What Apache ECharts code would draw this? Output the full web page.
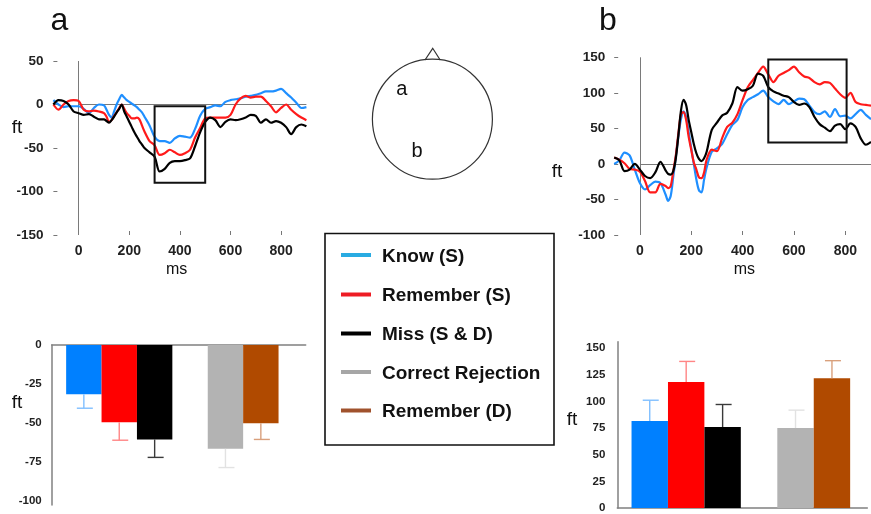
<!DOCTYPE html>
<html>
<head>
<meta charset="utf-8">
<script src="https://cdn.jsdelivr.net/npm/echarts@6/dist/echarts.min.js"></script>
<style>
html,body{margin:0;padding:0;background:#ffffff;}
#c{width:871px;height:514px;}
</style>
</head>
<body>
<div id="c"></div>
<script>
// ---------------- DATA ----------------
// time points (ms)
const times = [
  -100,-80,-60,-40,-20,0,20,40,60,80,100,
  110,120,130,140,150,160,170,180,190,200,210,220,230,240,250,260,
  280,300,320,340,360,380,400,420,440,460,480,500,520,540,560,580,600,620,640,660,680,700,720,740,760,780,800,820,840,860,880,900
];
// panel a (fT)
const knowA = [
  5,0,-3,-2,-2,-2,-5,-10,-4,0,-1,
  -6,-12,-15,-8,0,6,11,8,5,3,1,-1,-3,-6,-9,-14,
  -24,-37,-42,-42,-44,-39,-36,-37,-38,-28,-13,-5,-3,-1,-2,3,5,6,7,9,10,11,13,15,15,16,18,13,8,2,-4,-3
];
const rememberA = [
  0,-6,0,4,5,4,-6,-8,-7,-8,-10,
  -14,-20,-18,-13,-9,-4,0,-5,-10,-13,-16,-16,-15,-17,-24,-31,
  -42,-47,-58,-56,-52,-55,-58,-56,-52,-38,-27,-16,-15,-15,-15,-15,-12,0,7,10,8,9,9,4,-2,-9,-4,0,-6,-11,-15,-18
];
const missA = [
  0,5,4,0,-8,-10,-12,-11,-14,-17,-17,
  -19,-21,-18,-14,-9,-5,0,-8,-14,-20,-26,-32,-37,-42,-46,-50,
  -55,-60,-77,-74,-67,-65,-65,-64,-62,-48,-32,-20,-15,-18,-26,-20,-17,-18,-17,-15,-12,-13,-21,-17,-21,-19,-21,-26,-34,-26,-23,-25
];
// panel b (fT)
const knowB = [
  0,5,16,12,-8,-27,-36,-30,-25,-27,-43,
  -52,-45,-18,10,39,63,74,66,45,22,0,-22,-37,-40,-22,-5,
  17,22,28,42,55,62,80,90,94,98,103,94,88,84,90,84,88,92,91,82,73,70,74,66,77,67,68,64,70,76,69,63
];
const rememberB = [
  9,6,1,-7,-8,-11,-24,-40,-40,-28,-31,
  -34,-31,-10,12,43,70,73,62,38,20,2,-8,-19,-20,-12,6,
  20,18,36,52,58,70,90,108,118,128,137,126,115,124,128,132,137,129,123,121,115,112,115,114,106,98,93,100,87,84,83,82
];
const missB = [
  9,5,-10,-8,0,-8,-17,-20,-12,3,-9,
  -14,-15,-10,8,40,75,90,83,62,45,28,15,7,4,8,17,
  48,58,68,72,85,108,103,105,110,127,124,108,102,99,96,94,87,83,85,80,66,56,51,46,54,56,49,57,52,36,27,31
];
// analysis windows (ms, fT)
const windowA = [300, 500, -2, -90];
const windowB = [500, 805, 147, 30];

// bar charts
const conditions = ['Know (S)', 'Remember (S)', 'Miss (S & D)', 'Correct Rejection', 'Remember (D)'];
const barA = [-31.5, -49.5, -60.5, -66.5, -50.2];
const errA = [9, 11.5, 11.5, 12, 10.3];
const barB = [81.5, 118.3, 76, 75, 121.7];
const errB = [19.6, 19.2, 21.1, 16.8, 16.5];

// tick labels
const xTickVals = [0, 200, 400, 600, 800];
const barTicksA = [0, -25, -50, -75, -100];
const barTicksB = [0, 25, 50, 75, 100, 125, 150];

// ---------------- STYLE ----------------
const FONT = '"Liberation Sans", Arial, Helvetica, sans-serif';
const lineColors = ['#1f8fff', '#ff1a1a', '#000000'];
const barColors = ['#0080ff', '#ff0000', '#000000', '#b3b3b3', '#b04a00'];
const errColors = ['#80bfff', '#ff8585', '#3a3a3a', '#e2e2e2', '#d9a07c'];
const legendColors = ['#29abe2', '#ee1c24', '#000000', '#a6a6a6', '#a0522d'];
const slots = [0, 1, 2, 4, 5];

function pairs(vals) { return times.map((t, i) => [t, vals[i]]); }

const lblStyle = { fontFamily: FONT, fontWeight: 'bold', color: '#222' };

function lineX(gi) {
  return {
    type: 'value', gridIndex: gi, min: -100, max: 900, position: 'bottom',
    axisLine: { show: false, onZero: false }, splitLine: { show: false },
    axisTick: { show: true, inside: true, length: 4, lineStyle: { color: '#777' }, customValues: xTickVals },
    axisLabel: Object.assign({ customValues: xTickVals, fontSize: 14, margin: 9 }, lblStyle)
  };
}
function lineY(gi, min, max, margin) {
  return {
    type: 'value', gridIndex: gi, min: min, max: max, interval: 50, position: 'left',
    axisLine: { show: false, onZero: false }, splitLine: { show: false },
    axisTick: { show: true, inside: true, length: 4, lineStyle: { color: '#777' } },
    axisLabel: Object.assign({ fontSize: 13.5, margin: margin }, lblStyle)
  };
}
function lineSeries(name, vals, xi, color, extra) {
  return Object.assign({
    type: 'line', name: name, xAxisIndex: xi, yAxisIndex: xi,
    data: pairs(vals), showSymbol: false, symbol: 'none', smooth: 0.3,
    lineStyle: { color: color, width: 2.2 }, itemStyle: { color: color },
    z: 3
  }, extra || {});
}
function refMarks(ymax, ymin, win) {
  return {
    markLine: {
      silent: true, symbol: 'none', label: { show: false }, z: 1,
      lineStyle: { color: '#7a7a7a', width: 1, type: 'solid' },
      data: [
        [{ coord: [0, 0] }, { coord: [900, 0] }],
        [{ coord: [0, ymax] }, { coord: [0, ymin] }]
      ]
    },
    markArea: {
      silent: true, z: 4,
      itemStyle: { color: 'rgba(0,0,0,0)', borderColor: '#111', borderWidth: 2 },
      data: [[{ coord: [win[0], win[2]] }, { coord: [win[1], win[3]] }]]
    }
  };
}
function barSeries(vals, ai, width) {
  return {
    type: 'bar', xAxisIndex: ai, yAxisIndex: ai, barWidth: width,
    data: vals.map((v, i) => ({ value: [slots[i], v], itemStyle: { color: barColors[i] } })),
    z: 2
  };
}
function errSeries(vals, errs, ai) {
  return {
    type: 'custom', xAxisIndex: ai, yAxisIndex: ai, z: 3,
    encode: { x: 0, y: 1 },
    data: vals.map((v, i) => [slots[i], v, errs[i], i]),
    renderItem: function (params, api) {
      const x = api.value(0), v = api.value(1), e = api.value(2), k = api.value(3);
      const p1 = api.coord([x, v]);
      const p2 = api.coord([x, v + (v < 0 ? -e : e)]);
      const st = { stroke: errColors[k], lineWidth: 1.4 };
      return {
        type: 'group', children: [
          { type: 'line', shape: { x1: p1[0], y1: p1[1], x2: p2[0], y2: p2[1] }, style: st },
          { type: 'line', shape: { x1: p2[0] - 7, y1: p2[1], x2: p2[0] + 9, y2: p2[1] }, style: st }
        ]
      };
    }
  };
}
function barY(gi, min, max, ticks, margin) {
  return {
    type: 'value', gridIndex: gi, min: min, max: max, position: 'left',
    axisLine: { show: true, onZero: false, lineStyle: { color: '#808080', width: 1.5 } },
    axisTick: { show: false }, splitLine: { show: false },
    axisLabel: Object.assign({ customValues: ticks, fontSize: 11.5, margin: margin }, lblStyle)
  };
}
function barX(gi, min, max, pos) {
  return {
    type: 'value', gridIndex: gi, min: min, max: max, position: pos,
    axisLine: { show: true, onZero: false, lineStyle: { color: '#808080', width: 1.5 } },
    axisTick: { show: false }, axisLabel: { show: false }, splitLine: { show: false }
  };
}
function txt(x, y, s, size, weight, align) {
  return {
    type: 'text', x: x, y: y, silent: true,
    style: { text: s, font: (weight || 'normal') + ' ' + size + 'px ' + FONT, fill: '#111', align: align || 'center', verticalAlign: 'middle' }
  };
}

// legend + head graphics
const legendRows = [255, 294.5, 333.5, 372, 410.5];
const graphics = [
  txt(59.5, 21.5, 'a', 32),
  txt(608, 21.5, 'b', 32),
  txt(17, 128, 'ft', 19),
  txt(557, 172, 'ft', 19),
  txt(17, 403, 'ft', 19),
  txt(572, 420, 'ft', 19),
  txt(176.7, 270, 'ms', 16),
  txt(744.3, 270, 'ms', 16),
  { type: 'circle', silent: true, shape: { cx: 432.4, cy: 119.2, r: 60 }, style: { fill: 'none', stroke: '#333', lineWidth: 1.2 } },
  { type: 'polyline', silent: true, shape: { points: [[425, 60], [432.7, 48.3], [440.2, 60]] }, style: { fill: 'none', stroke: '#333', lineWidth: 1.2 } },
  txt(401.7, 89, 'a', 20),
  txt(417, 151, 'b', 20),
  { type: 'rect', silent: true, shape: { x: 325, y: 233.5, width: 229, height: 211.5 }, style: { fill: '#fff', stroke: '#111', lineWidth: 1.6 } }
];
conditions.forEach((name, i) => {
  graphics.push({ type: 'line', silent: true, shape: { x1: 341, y1: legendRows[i], x2: 371, y2: legendRows[i] }, style: { stroke: legendColors[i], lineWidth: 4 } });
  graphics.push(txt(382, legendRows[i] + 1.5, name, 19, 'bold', 'left'));
});

const option = {
  animation: false,
  backgroundColor: '#ffffff',
  grid: [
    { left: 53.4, top: 61, width: 253, height: 174 },
    { left: 614.2, top: 57.3, width: 258.5, height: 177.7 },
    { left: 51.7, top: 345, width: 254, height: 160 },
    { left: 617.3, top: 341.7, width: 250, height: 167.3 }
  ],
  xAxis: [
    lineX(0), lineX(1),
    barX(2, -0.908, 6.267, 'top'),
    barX(3, -0.89, 5.97, 'bottom')
  ],
  yAxis: [
    lineY(0, -150, 50, 10),
    lineY(1, -100, 150, 9),
    barY(2, -102.5, 0, barTicksA, 10),
    barY(3, 0, 156, barTicksB, 12)
  ],
  series: [
    lineSeries(conditions[0], knowA, 0, lineColors[0], refMarks(50, -150, windowA)),
    lineSeries(conditions[1], rememberA, 0, lineColors[1]),
    lineSeries(conditions[2], missA, 0, lineColors[2]),
    lineSeries(conditions[0], knowB, 1, lineColors[0], refMarks(150, -100, windowB)),
    lineSeries(conditions[1], rememberB, 1, lineColors[1]),
    lineSeries(conditions[2], missB, 1, lineColors[2]),
    barSeries(barA, 2, 35.4),
    errSeries(barA, errA, 2),
    barSeries(barB, 3, 36.4),
    errSeries(barB, errB, 3)
  ],
  graphic: { elements: graphics }
};

const chart = echarts.init(document.getElementById('c'), null, { renderer: 'canvas', width: 871, height: 514 });
chart.setOption(option);
</script>
</body>
</html>
